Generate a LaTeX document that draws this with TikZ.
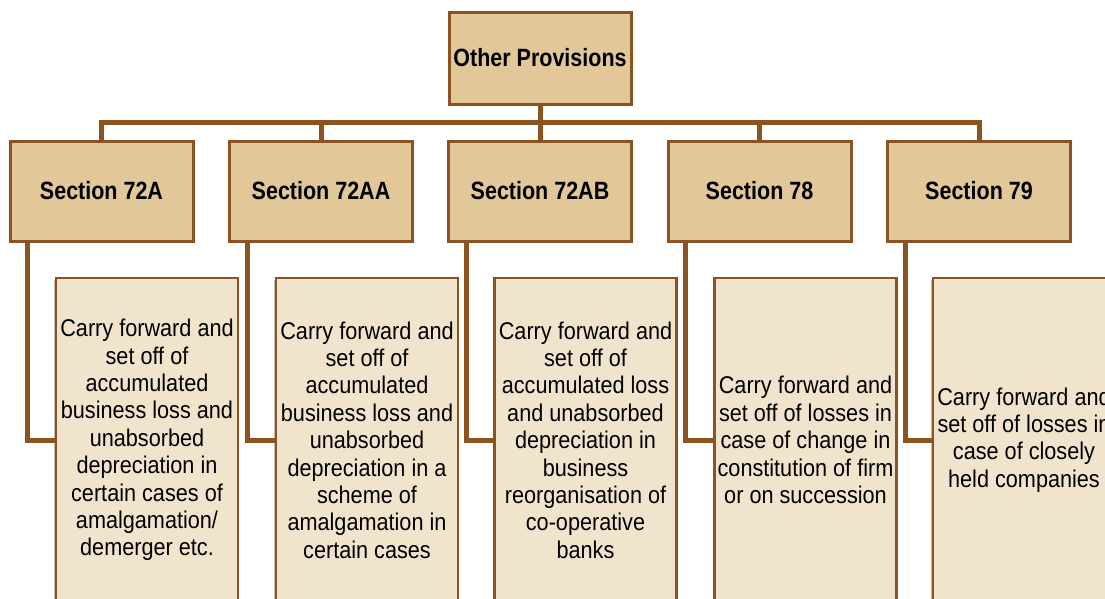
\documentclass[tikz,border=0pt]{standalone}
\usepackage{fontspec}
\setmainfont{Liberation Sans}[FakeStretch=0.895,BoldFeatures={FakeStretch=0.86}]
\usetikzlibrary{shadows}
\definecolor{brd}{RGB}{140,82,32}
\definecolor{secfill}{RGB}{226,200,153}
\definecolor{leaffill}{RGB}{240,228,204}
\begin{document}
\begin{tikzpicture}[x=1pt,y=-1pt,
  headbox/.style={draw=brd,fill=secfill,line width=3pt,minimum width=183pt,minimum height=100pt,inner sep=0pt,
    font=\bfseries\fontsize{25}{28}\selectfont,text=black},
  leafbox/.style={draw=brd,fill=leaffill,line width=2.5pt,minimum width=182pt,minimum height=324pt,inner sep=0pt,
    align=center,font=\fontsize{24.2}{27.4}\selectfont,text=black,
    drop shadow={shadow xshift=-2pt,shadow yshift=-2pt,opacity=0.25,fill=black}},
  conn/.style={draw=brd,line width=5pt}]
\useasboundingbox (0,0) rectangle (1105,598);
\clip (0,0) rectangle (1105,598);
\fill[white] (0,0) rectangle (1105,598);

\node[headbox,minimum width=182pt,minimum height=92pt] (top) at (540,58) {Other Provisions};
\node[headbox] (s1) at (101.5,191) {Section 72A};
\node[headbox] (s2) at (321,191) {Section 72AA};
\node[headbox] (s3) at (540,191) {Section 72AB};
\node[headbox] (s4) at (759.5,191) {Section 78};
\node[headbox] (s5) at (979,191) {Section 79};

\coordinate (bar) at (540,122);
\begin{scope}[conn]
\draw (top.south) -- (bar);
\draw (s1.north) -- (s1.north |- bar) -- (s5.north |- bar) -- (s5.north);
\draw (s2.north) -- (s2.north |- bar);
\draw (s3.north) -- (s3.north |- bar);
\draw (s4.north) -- (s4.north |- bar);
\end{scope}

\node[leafbox] (l1) at (147,440) {Carry forward and\\set off of\\accumulated\\business loss and\\unabsorbed\\depreciation in\\certain cases of\\amalgamation/\\demerger etc.};
\node[leafbox] (l2) at (367,440) {Carry forward and\\set off of\\accumulated\\business loss and\\unabsorbed\\depreciation in a\\scheme of\\amalgamation in\\certain cases};
\node[leafbox] (l3) at (585.5,440) {Carry forward and\\set off of\\accumulated loss\\and unabsorbed\\depreciation in\\business\\reorganisation of\\co-operative\\banks};
\node[leafbox] (l4) at (805.5,440) {Carry forward and\\set off of losses in\\case of change in\\constitution of firm\\or on succession};
\node[leafbox] (l5) at (1024,440) {Carry forward and\\set off of losses in\\case of closely\\held companies};

\begin{scope}[conn]
\draw ([xshift=19pt]s1.south west) |- (l1.west);
\draw ([xshift=19pt]s2.south west) |- (l2.west);
\draw ([xshift=19pt]s3.south west) |- (l3.west);
\draw ([xshift=19pt]s4.south west) |- (l4.west);
\draw ([xshift=19pt]s5.south west) |- (l5.west);
\end{scope}
\end{tikzpicture}
\end{document}
